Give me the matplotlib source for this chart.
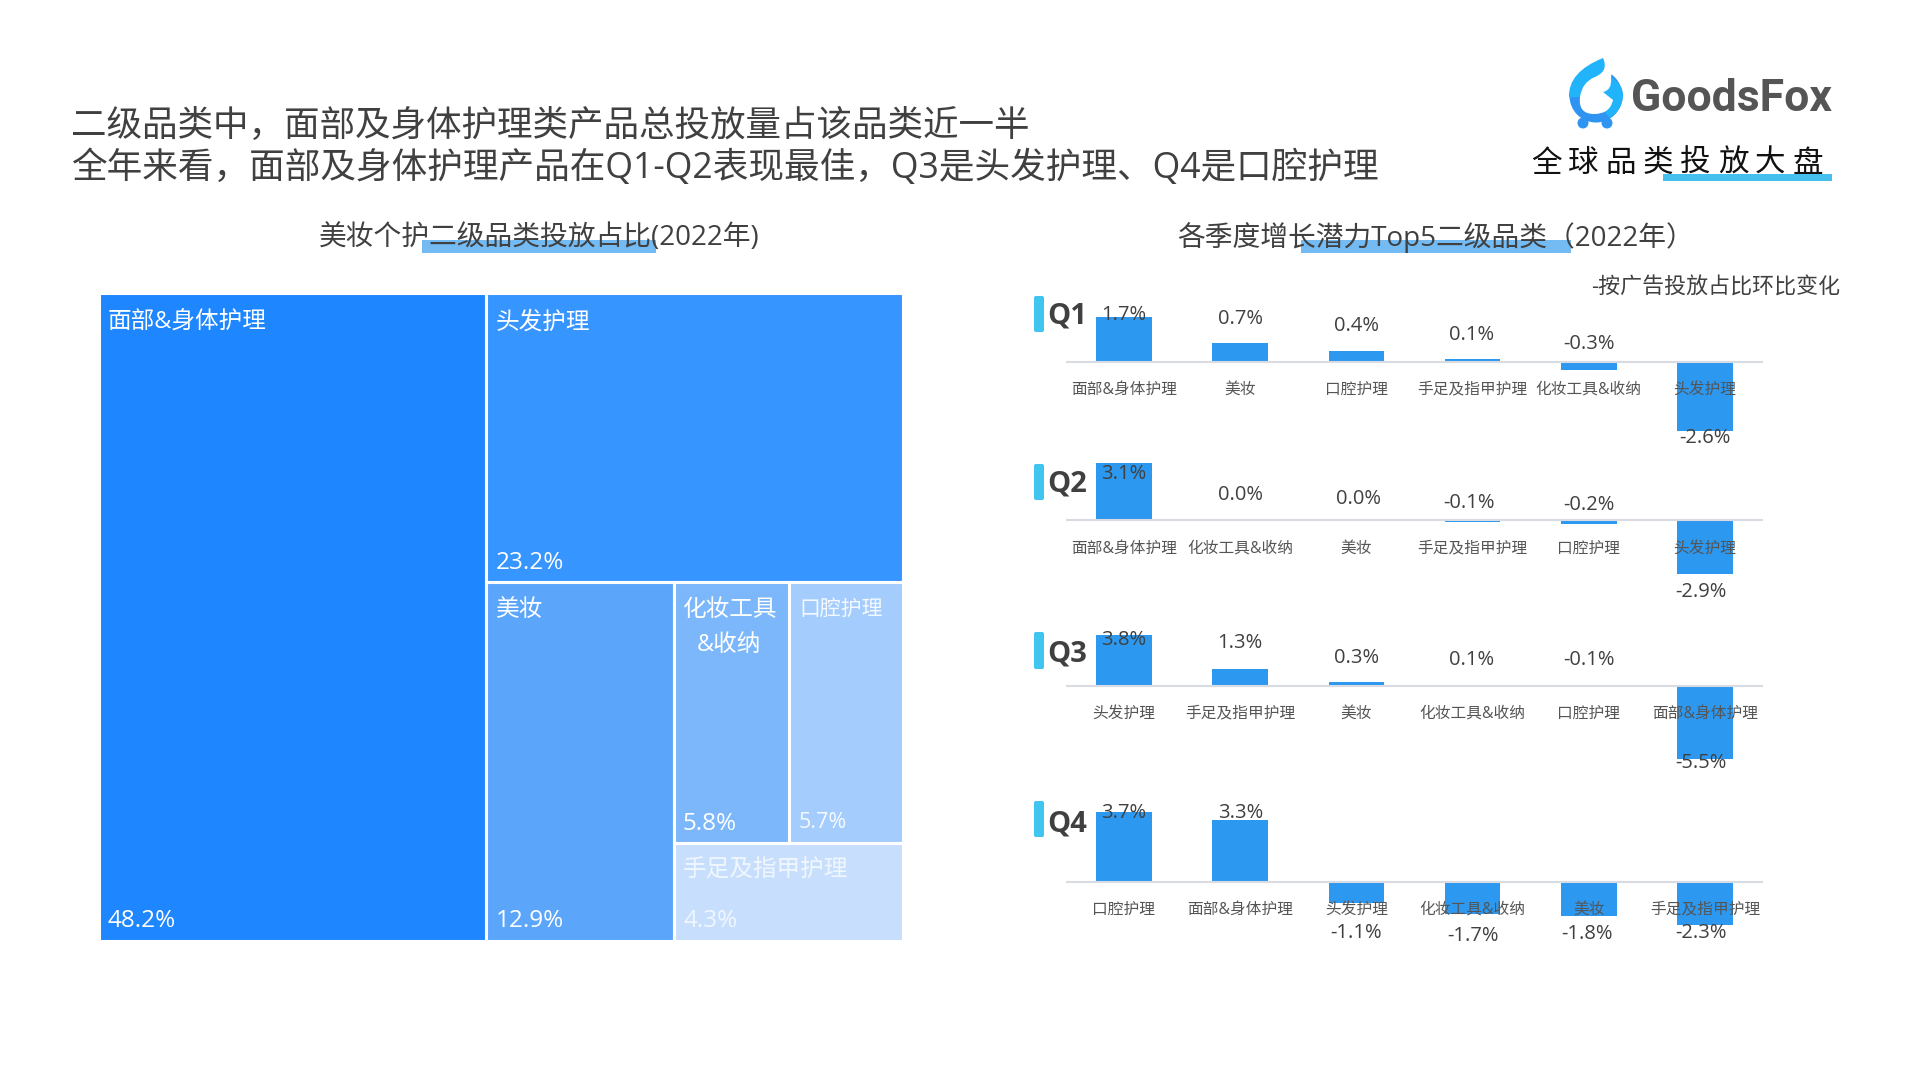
import matplotlib
matplotlib.use("Agg")
import matplotlib.pyplot as plt
from matplotlib.patches import Rectangle, FancyBboxPatch, Circle, PathPatch
from matplotlib.path import Path

plt.rcParams['font.family'] = ['Open Sans', 'Noto Sans CJK SC', 'DejaVu Sans']

W, H = 1920, 1080
DARK = "#404040"
BAR = "#2C98F0"
CYAN = "#40C4F0"

# treemap
tree_names = ["面部&身体护理", "头发护理", "美妆", "化妆工具\n&收纳", "口腔护理", "手足及指甲护理"]
tree_values = [48.2, 23.2, 12.9, 5.8, 5.7, 4.3]
tree_colors = ["#1E86FF", "#3795FF", "#5BA6FB", "#7DB7FB", "#A4CDFD", "#C7DFFD"]

# quarters
q_names = ["Q1", "Q2", "Q3", "Q4"]
q1_cats = ["面部&身体护理", "美妆", "口腔护理", "手足及指甲护理", "化妆工具&收纳", "头发护理"]
q1_vals = [1.7, 0.7, 0.4, 0.1, -0.3, -2.6]
q2_cats = ["面部&身体护理", "化妆工具&收纳", "美妆", "手足及指甲护理", "口腔护理", "头发护理"]
q2_vals = [3.1, 0.0, 0.0, -0.1, -0.2, -2.9]
q3_cats = ["头发护理", "手足及指甲护理", "美妆", "化妆工具&收纳", "口腔护理", "面部&身体护理"]
q3_vals = [3.8, 1.3, 0.3, 0.1, -0.1, -5.5]
q4_cats = ["口腔护理", "面部&身体护理", "头发护理", "化妆工具&收纳", "美妆", "手足及指甲护理"]
q4_vals = [3.7, 3.3, -1.1, -1.7, -1.8, -2.3]
q_cats = [q1_cats, q2_cats, q3_cats, q4_cats]
q_vals = [q1_vals, q2_vals, q3_vals, q4_vals]

# layout of each quarter panel, in pixels
baselines = [362, 520, 686, 882]
px_per_pct = [26.7, 18.5, 13.3, 18.8]
cat_label_y = [389.5, 548.5, 713.5, 909.5]
marker_y = [(296, 332), (464, 500), (632, 669), (801, 837)]
q_text_y = [316, 484, 654, 824]
val_label_y = [[315, 319, 326, 335, 344, 438],
               [474, 495, 499, 503, 505, 592],
               [640, 643, 658, 660, 660, 763],
               [813, 813, 933, 936, 934, 933]]
val_label_dx = [[0, 0, 0, -1, 0, 0],
                [0, 0, 2, -4, 0, -4],
                [0, 0, 0, -1, 0, -4],
                [0, 0, 0, 0, -2, -4]]


def px_axes(left, top, right, bottom, **kw):
    return fig.add_axes([left / W, 1 - bottom / H, (right - left) / W, (bottom - top) / H], **kw)


fig = plt.figure(figsize=(19.2, 10.8), dpi=100, facecolor="white")

# treemap: slice layout worked out from the values
tm = px_axes(99, 293, 903, 940.5)
total = sum(tree_values)
rest = total - tree_values[0]
low = rest - tree_values[1]
sub = tree_values[3] + tree_values[4] + tree_values[5]
top_sub = tree_values[3] + tree_values[4]
w0 = tree_values[0] / total
h1 = tree_values[1] / rest
w2 = tree_values[2] / low * (1 - w0)
h5 = tree_values[5] / sub * (1 - h1)
w3 = tree_values[3] / top_sub * (1 - w0 - w2)
rects = [
    (0, 0, w0, 1),
    (w0, 1 - h1, 1 - w0, h1),
    (w0, 0, w2, 1 - h1),
    (w0 + w2, h5, w3, 1 - h1 - h5),
    (w0 + w2 + w3, h5, 1 - w0 - w2 - w3, 1 - h1 - h5),
    (w0 + w2, 0, 1 - w0 - w2, h5),
]
for r, c in zip(rects, tree_colors):
    tm.bar(r[0], r[3], r[2], bottom=r[1], align="edge", color=c, edgecolor="white", linewidth=2.2)
tm.set_xlim(0, 1)
tm.set_ylim(0, 1)
tm.axis("off")

# quarter bar panels
XL, XR = 1066, 1763
C0, STEP = 1124, 116.2
for k in range(4):
    base = baselines[k]
    s = px_per_pct[k]
    ax = px_axes(XL, base - 70, XR, base + 90)
    ax.patch.set_alpha(0)
    ax.bar(range(6), q_vals[k], width=55.5 / STEP, color=BAR, zorder=2)
    ax.axhline(0, color="#D8DCE2", lw=1.5, zorder=3)
    ax.set_xlim((XL - C0) / STEP, (XR - C0) / STEP)
    ax.set_ylim(-90 / s, 70 / s)
    ax.axis("off")
    for i in range(6):
        ax.annotate(q_cats[k][i], xy=(i, 0), xytext=(0, base - cat_label_y[k]), textcoords="offset pixels",
                    ha="center", va="center", fontsize=11.3, color="#555555", zorder=4, annotation_clip=False)
        ax.annotate("%.1f%%" % q_vals[k][i], xy=(i, 0),
                    xytext=(val_label_dx[k][i], base - val_label_y[k][i]), textcoords="offset pixels",
                    ha="center", va="center", fontsize=14.5, color=DARK, zorder=4, annotation_clip=False)

# everything placed by pixel on a full figure overlay
deco = fig.add_axes([0, 0, 1, 1], zorder=5)
deco.patch.set_alpha(0)
deco.set_xlim(0, W)
deco.set_ylim(H, 0)
deco.axis("off")

deco.text(71, 127, "二级品类中，面部及身体护理类产品总投放量占该品类近一半", fontsize=25.6, color=DARK, va="center")
deco.text(71, 169, "全年来看，面部及身体护理产品在Q1-Q2表现最佳，Q3是头发护理、Q4是口腔护理", fontsize=25.65, color=DARK, va="center")

# subtitles with highlight bands
deco.add_patch(Rectangle((422, 240), 234, 13, color="#74BBF3", lw=0))
deco.add_patch(Rectangle((1301, 240), 270, 13, color="#74BBF3", lw=0))
deco.text(319, 238, "美妆个护二级品类投放占比(2022年)", fontsize=20, color=DARK, va="center")
deco.text(1177, 238, "各季度增长潜力Top5二级品类（2022年）", fontsize=20, color=DARK, va="center")
deco.text(1840, 288, "-按广告投放占比环比变化", fontsize=15.8, color=DARK, va="center", ha="right")

# treemap labels
white = dict(color="white", va="center")
deco.text(108, 323, tree_names[0], fontsize=17, **white)
deco.text(108, 921, "48.2%", fontsize=17.5, **white)
deco.text(496, 323, tree_names[1], fontsize=17, **white)
deco.text(496, 563, "23.2%", fontsize=17.5, **white)
deco.text(496, 611, tree_names[2], fontsize=17, **white)
deco.text(496, 921, "12.9%", fontsize=17.5, **white)
deco.text(729, 610, tree_names[3].split("\n")[0], fontsize=17, ha="center", **white)
deco.text(729, 645, tree_names[3].split("\n")[1], fontsize=17, ha="center", **white)
deco.text(683, 824, "5.8%", fontsize=17.5, **white)
deco.text(799, 609, tree_names[4], fontsize=15, alpha=0.9, **white)
deco.text(799, 823, "5.7%", fontsize=15.5, alpha=0.9, **white)
deco.text(683, 871, tree_names[5], fontsize=17, alpha=0.75, **white)
deco.text(683, 921, "4.3%", fontsize=17.5, alpha=0.75, **white)

# quarter markers
for k in range(4):
    y0, y1 = marker_y[k]
    deco.add_patch(FancyBboxPatch((1036, y0 + 2), 6, y1 - y0 - 4, boxstyle="round,pad=2,rounding_size=2",
                                  color=CYAN, lw=0))
    deco.text(1047, q_text_y[k], q_names[k], fontsize=21, fontweight="bold", color=DARK, va="center")

# logo
LIGHT = "#22B4FA"
deco.add_patch(Circle((1583, 123), 5.5, color="#2F95F2", lw=0))
deco.add_patch(Circle((1607, 123), 5.5, color="#2F95F2", lw=0))
deco.add_patch(Circle((1596, 96), 26.5, color="#2F93F2", lw=0))
crescent = Path([(1610, 77), (1624, 84), (1623, 97), (1622, 110), (1610, 118), (1594, 100), (1610, 77)],
                [Path.MOVETO, Path.CURVE3, Path.CURVE3, Path.CURVE3, Path.CURVE3, Path.LINETO, Path.CLOSEPOLY])
deco.add_patch(PathPatch(crescent, facecolor=LIGHT, lw=0))
inner = Path([(1595, 68), (1612, 64), (1611, 79), (1612, 90), (1603, 92), (1608, 96), (1613, 100),
              (1610, 114), (1594, 114), (1578, 114), (1580, 97), (1580, 82), (1595, 68)],
             [Path.MOVETO, Path.LINETO, Path.LINETO] + [Path.CURVE3] * 8 + [Path.LINETO, Path.CLOSEPOLY])
deco.add_patch(PathPatch(inner, facecolor="white", lw=0))
flame = Path([(1603, 58), (1609, 71), (1595, 77), (1582, 82), (1580, 97), (1569, 97), (1568, 72), (1603, 58)],
             [Path.MOVETO, Path.CURVE3, Path.CURVE3, Path.CURVE3, Path.CURVE3, Path.LINETO, Path.CURVE3, Path.CURVE3])
deco.add_patch(PathPatch(flame, facecolor=LIGHT, lw=0))
deco.text(1631, 99, "GoodsFox", fontsize=32, fontweight="bold", family="Roboto", color="#555555", va="center")

# letter-spaced logo line
deco.add_patch(Rectangle((1663, 174), 169, 7, color="#45BFEE", lw=0))
for i, ch in enumerate("全球品类投放大盘"):
    deco.text(1546 + i * 37.4, 164, ch, fontsize=22, color="#111111", ha="center", va="center")

fig.savefig("out.png", dpi=100)
